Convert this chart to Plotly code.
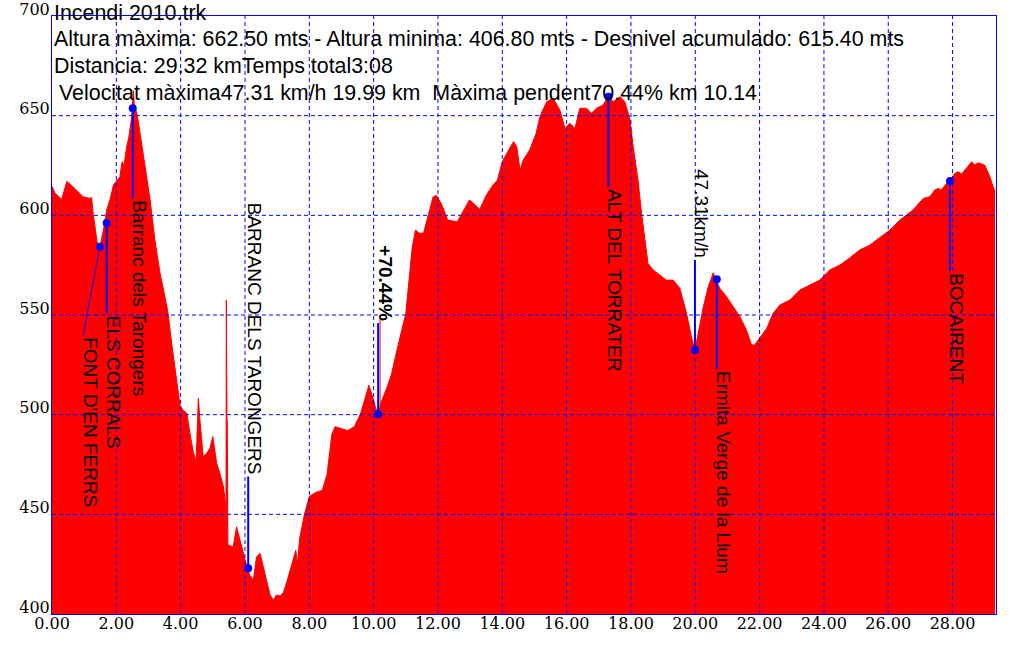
import plotly.graph_objects as go

# ---------------- data ----------------
dist_km = [0.00, 0.10, 0.30, 0.46, 0.71, 0.96, 1.18, 1.23, 1.28, 1.34, 1.40, 1.49, 1.60, 1.70, 1.80,
           1.91, 2.02, 2.11, 2.18, 2.24, 2.32, 2.39, 2.48, 2.53, 2.56, 2.64, 2.74, 2.89, 3.05, 3.20,
           3.36, 3.51, 3.61, 3.72, 3.88, 3.98, 4.07, 4.19, 4.29, 4.39, 4.48, 4.55, 4.60, 4.70, 4.81,
           4.91, 5.00, 5.12, 5.22, 5.33, 5.41, 5.42, 5.44, 5.45, 5.47, 5.63, 5.74, 5.84, 5.95, 6.06,
           6.15, 6.26, 6.36, 6.47, 6.57, 6.67, 6.78, 6.88, 6.98, 7.10, 7.20, 7.30, 7.40, 7.50, 7.58,
           7.63, 7.70, 7.85, 8.00, 8.20, 8.40, 8.55, 8.70, 8.80, 9.00, 9.20, 9.40, 9.60, 9.73, 9.85,
           9.95, 10.05, 10.14, 10.25, 10.40, 10.55, 10.70, 10.90, 11.00, 11.10, 11.20, 11.30, 11.42,
           11.55, 11.65, 11.78, 11.85, 11.95, 12.10, 12.20, 12.30, 12.60, 12.75, 12.98, 13.10, 13.30,
           13.50, 13.70, 13.85, 14.00, 14.20, 14.35, 14.45, 14.55, 14.65, 14.85, 15.05, 15.17, 15.38,
           15.58, 15.79, 15.95, 16.10, 16.26, 16.41, 16.62, 16.77, 16.93, 17.13, 17.29, 17.45, 17.66,
           17.81, 17.97, 18.07, 18.22, 18.33, 18.43, 18.53, 18.69, 18.90, 19.10, 19.31, 19.52, 19.73,
           19.88, 19.99, 20.09, 20.25, 20.40, 20.56, 20.66, 20.76, 20.97, 21.18, 21.39, 21.59, 21.75,
           21.85, 22.00, 22.22, 22.42, 22.63, 22.94, 23.25, 23.56, 23.87, 24.18, 24.49, 24.80, 25.11,
           25.42, 25.74, 26.05, 26.36, 26.77, 27.09, 27.29, 27.45, 27.55, 27.65, 27.81, 27.91, 28.07,
           28.17, 28.28, 28.43, 28.59, 28.69, 28.79, 29.00, 29.16, 29.26, 29.32]
elev_m = [614.5, 611.0, 608.0, 617.0, 613.5, 609.3, 608.5, 609.0, 601.0, 592.6, 586.8, 584.3, 592.6, 602.7, 607.7,
          615.2, 617.7, 619.4, 626.9, 625.0, 634.4, 639.4, 649.5, 662.5, 655.0, 651.2, 641.0, 624.4, 607.7, 587.6,
          570.9, 559.2, 550.8, 535.8, 515.7, 504.8, 502.3, 500.7, 490.6, 481.4, 476.4, 508.2, 497.3, 478.9, 480.6,
          483.1, 489.0, 475.6, 470.5, 463.8, 453.8, 557.5, 497.0, 497.0, 434.6, 433.7, 443.7, 437.0, 431.2, 423.7,
          419.5, 417.0, 428.7, 430.4, 423.7, 417.0, 409.5, 407.0, 409.5, 409.0, 411.0, 416.0, 422.0, 427.0, 432.0,
          425.0, 438.0, 450.0, 459.0, 461.0, 462.0, 470.0, 490.0, 494.0, 493.0, 492.0, 494.0, 500.8, 508.0, 514.8,
          510.0, 504.0, 500.2, 507.0, 513.0, 520.0, 530.7, 544.0, 550.8, 567.5, 584.0, 592.6, 591.0,
          591.0, 597.6, 606.0, 609.3, 610.0, 606.0, 602.0, 597.6, 596.8, 601.0, 607.7, 606.0, 603.0,
          610.0, 615.0, 617.7, 626.9, 632.8, 637.0, 634.4, 622.7, 627.7, 632.8, 641.0, 649.5, 657.0,
          658.7, 652.8, 643.6, 646.2, 643.6, 653.7, 653.7, 651.2, 653.7, 655.3, 659.5, 657.0, 659.5,
          657.0, 648.0, 634.4, 617.7, 601.0, 587.6, 575.9, 572.6, 570.0, 567.5, 567.5, 563.4, 550.8,
          539.0, 532.4, 540.8, 554.0, 564.0, 571.2, 567.0, 563.4, 559.2, 554.0, 549.1, 542.5, 535.0,
          535.0, 538.3, 543.3, 550.8, 555.0, 557.5, 562.5, 565.0, 567.5, 572.6, 575.0, 578.6, 582.6,
          585.0, 589.0, 592.6, 597.6, 602.7, 608.5, 609.3, 612.7, 613.5, 612.7, 616.0, 617.2, 621.0,
          621.9, 620.7, 623.6, 626.9, 625.2, 626.4, 625.2, 619.4, 614.4, 612.0]

x_ticks = [0, 2, 4, 6, 8, 10, 12, 14, 16, 18, 20, 22, 24, 26, 28]
x_tick_labels = ["0.00", "2.00", "4.00", "6.00", "8.00", "10.00", "12.00", "14.00", "16.00",
                 "18.00", "20.00", "22.00", "24.00", "26.00", "28.00"]
y_ticks = [400, 450, 500, 550, 600, 650, 700]
y_tick_labels = ["400", "450", "500", "550", "600", "650", "700"]

wp_names = ["FONT D'EN FERRS", "ELS CORRALS", "Barranc dels Tarongers", "BARRANC DELS TARONGERS",
            "+70.44%", "ALT DEL TORRATER", "47.31km/h", "Ermita Verge de la Llum", "BOCAIRENT"]
wp_km = [1.49, 1.70, 2.51, 6.10, 10.14, 17.30, 19.99, 20.67, 27.92]
wp_elev = [584.2, 596.1, 653.7, 422.9, 500.2, 659.5, 532.4, 567.9, 617.2]
wp_label_km = [0.97, 1.70, 2.51, 6.10, 10.14, 17.30, 19.99, 20.67, 27.92]
wp_label_elev = [540.0, 550.8, 608.5, 469.0, 546.0, 614.2, 577.6, 523.0, 572.0]
wp_label_above = [False, False, False, True, True, False, True, False, False]

slope_km = [10.20, 10.20]
slope_elev = [500.0, 549.9]

header_lines = [
    "Incendi 2010.trk",
    "Altura màxima: 662.50 mts - Altura minima: 406.80 mts - Desnivel acumulado: 615.40 mts",
    "Distancia: 29.32 kmTemps total3:08",
    "Velocitat màxima47.31 km/h 19.99 km\u00a0 Màxima pendent70.44% km 10.14",
]
header_y = [1.005, 0.9612, 0.9159, 0.8712]
header_x = [0.0007, 0.0007, 0.0007, 0.0067]

X_MAX = 29.35
BLUE = "#0000FF"
RED = "#FF0000"

fig = go.Figure()

fig.add_trace(go.Scatter(
    x=dist_km, y=elev_m, mode="lines", fill="tozeroy",
    fillcolor=RED, line=dict(color=RED, width=1), hoverinfo="skip", showlegend=False))

fig.add_trace(go.Scatter(
    x=slope_km, y=slope_elev, mode="lines",
    line=dict(color=RED, width=1), hoverinfo="skip", showlegend=False))

for i in range(len(wp_names)):
    vertical = wp_km[i] == wp_label_km[i]
    fig.add_trace(go.Scatter(
        x=[wp_km[i], wp_label_km[i]], y=[wp_elev[i], wp_label_elev[i]], mode="lines",
        line=dict(color=BLUE, width=2 if vertical else 1), hoverinfo="skip", showlegend=False))

fig.add_trace(go.Scatter(
    x=wp_km, y=wp_elev, mode="markers",
    marker=dict(color=BLUE, size=8), hoverinfo="skip", showlegend=False))

annotations = []
for i, name in enumerate(wp_names):
    annotations.append(dict(
        x=wp_label_km[i], y=wp_label_elev[i], xref="x", yref="y",
        text=name, textangle=90, showarrow=False,
        xanchor="left", yanchor="bottom" if wp_label_above[i] else "top",
        xshift=-5, yshift=1 if wp_label_above[i] else -1,
        borderpad=0,
        font=dict(family="Liberation Sans, Arial, sans-serif", size=19, color="black",
                  weight="bold" if name.startswith("+") else "normal")))

for txt, hx, hy in zip(header_lines, header_x, header_y):
    annotations.append(dict(
        x=hx, y=hy, xref="paper", yref="paper", text=txt, showarrow=False,
        xanchor="left", yanchor="middle", borderpad=0,
        font=dict(family="Liberation Sans, Arial, sans-serif", size=21.4, color="black")))

shapes = []
for xv in x_ticks:
    if 0 < xv < X_MAX:
        shapes.append(dict(type="line", xref="x", yref="paper", x0=xv, x1=xv, y0=0, y1=1,
                           line=dict(color=BLUE, width=1, dash="4px,3px"), layer="above"))
for yv in y_ticks:
    if y_ticks[0] < yv < y_ticks[-1]:
        shapes.append(dict(type="line", xref="paper", yref="y", x0=0, x1=1, y0=yv, y1=yv,
                           line=dict(color=BLUE, width=1, dash="4px,3px"), layer="above"))

fig.update_layout(
    width=1020, height=646,
    margin=dict(l=52, r=24, t=16, b=32),
    paper_bgcolor="white", plot_bgcolor="white",
    showlegend=False,
    annotations=annotations, shapes=shapes,
    xaxis=dict(range=[0, X_MAX], tickvals=x_ticks, ticktext=x_tick_labels,
               showgrid=False, zeroline=False, showline=True, mirror=True, automargin=False,
               linecolor=BLUE, linewidth=1, ticks="", layer="above traces",
               ticklabelstandoff=-5,
               tickfont=dict(family="DejaVu Serif, serif", size=16, color="black")),
    yaxis=dict(range=[y_ticks[0], y_ticks[-1]], tickvals=y_ticks, ticktext=y_tick_labels,
               showgrid=False, zeroline=False, showline=True, mirror=True, automargin=False,
               linecolor=BLUE, linewidth=1, ticks="", layer="above traces",
               ticklabelposition="outside", ticklabeloverflow="allow",
               ticklabelstandoff=-2, ticklabelshift=-7,
               tickfont=dict(family="DejaVu Serif, serif", size=16, color="black")),
)

fig.write_html("out.html", config={"displayModeBar": False},
               post_script="document.body.style.margin='0';")
